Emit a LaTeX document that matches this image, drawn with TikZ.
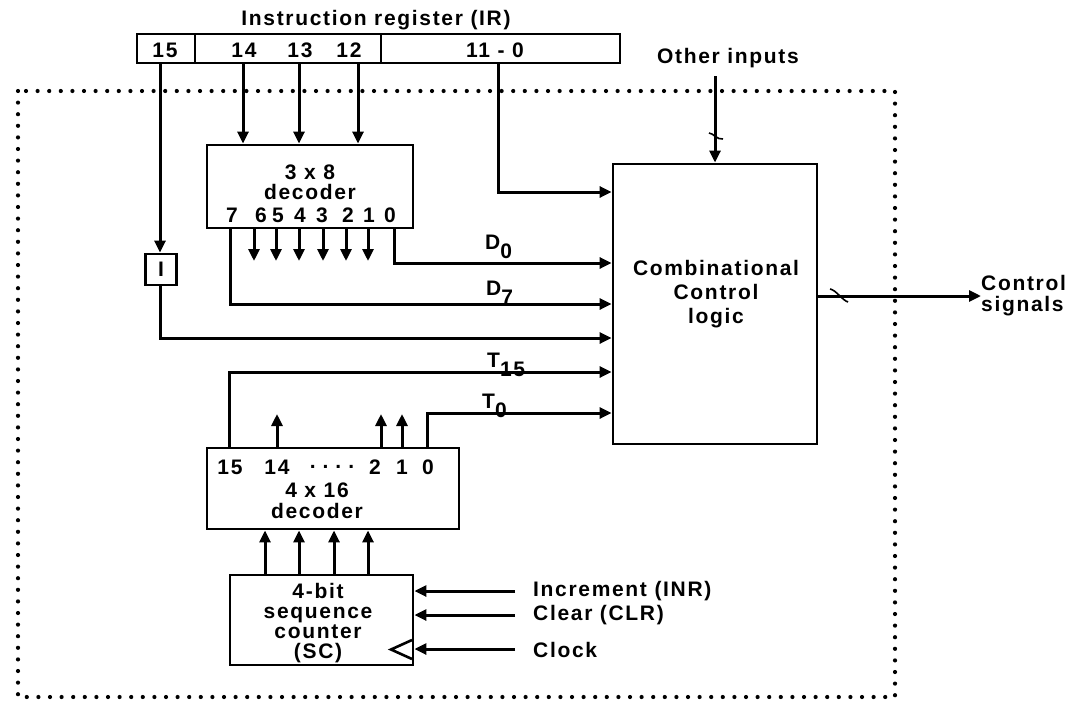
\documentclass[tikz,border=0pt]{standalone}
\usepackage{fontspec}
\setmainfont[LetterSpace=8]{Liberation Sans}
\usetikzlibrary{arrows.meta}
\begin{document}
\begin{tikzpicture}[x=1pt,y=-1pt,
  font=\fontsize{21}{24}\selectfont\bfseries,
  box/.style={draw,line width=2.9pt,inner sep=0pt},
  wire/.style={line width=3pt},
  arr/.style={line width=3pt,-{Triangle[length=12pt,width=11pt]}},
  lbl/.style={inner sep=0pt},
  dotbox/.style={line width=4.2pt,line cap=round,dash pattern=on 0pt off 11.6pt}]
\useasboundingbox (0,0) rectangle (1070,704);
\fill[white] (0,0) rectangle (1070,704);

% dotted control unit frame
\draw[dotbox] (18,91) rectangle (895,697);

% instruction register
\node[lbl] (irtitle) at (376,20) {Instruction register (IR)};
\node[box,minimum width=58pt,minimum height=29pt] (ir15) at (166,48.5) {};
\node[box,minimum width=186pt,minimum height=29pt] (irmid) at (288,48.5) {};
\node[box,minimum width=239pt,minimum height=29pt] (irlow) at (500.5,48.5) {};
\node[lbl] (t15) at (165,50) {15};
\node[lbl] (t14) at (244,50) {14};
\node[lbl] (t13) at (300,50) {13};
\node[lbl] (t12) at (349,50) {12};
\node[lbl] (t110) at (495,50) {11 - 0};

% 3x8 decoder
\node[box,minimum width=206pt,minimum height=83pt] (dec3) at (310,186.5) {};
\node[lbl] (dec3a) at (310,172) {3 x 8};
\node[lbl] (dec3b) at (310,192) {decoder};
\foreach \n/\x in {7/232,6/261,5/278,4/300,3/322,2/348,1/369,0/390}
  \node[lbl] (d3o\n) at (\x,215) {\n};

% I flip-flop
\node[box,minimum width=31pt,minimum height=31pt] (iff) at (161,269.5) {I};

% combinational control logic
\node[box,minimum width=204pt,minimum height=280pt] (ccl) at (715,304) {};
\node[lbl,align=center] (ccltext) at (716,294) {Combinational\\[0pt]Control\\[0pt]logic};

% 4x16 decoder
\node[box,minimum width=252pt,minimum height=81pt] (dec4) at (333,488.5) {};
\foreach \n/\t/\x in {a/15/230,b/14/277,c/{.\,\,.\,\,.\,\,.}/332,d/2/375,e/1/402,f/0/428}
  \node[lbl] (d4o\n) at (\x,467) {\t};
\node[lbl] (dec4a) at (317,490) {4 x 16};
\node[lbl] (dec4b) at (317,511) {decoder};

% sequence counter
\node[box,minimum width=183pt,minimum height=90pt] (sc) at (321.5,620) {};
\node[lbl,align=center] (sctext) at (318,623) {4-bit\\[-4pt]sequence\\[-4pt]counter\\[-4pt](SC)};
\draw[line width=2.6pt] (412,640) -- (391,649.5) -- (412,659);

% input labels of SC
\node[lbl,anchor=west] (inr) at (533,591) {Increment (INR)};
\node[lbl,anchor=west] (clr) at (533,615) {Clear (CLR)};
\node[lbl,anchor=west] (clk) at (533,650) {Clock};
\draw[arr] (515,591) -- (sc.east |- 0,591);
\draw[arr] (515,615) -- (sc.east |- 0,615);
\draw[arr] (515,649) -- (sc.east |- 0,649);

% IR to decoder
\foreach \x in {243,299,358}
  \draw[arr] (\x,0 |- irmid.south) -- (\x,0 |- dec3.north);
% bit 15 to I
\draw[arr] (160,0 |- ir15.south) -- (160,0 |- iff.north);
% I to CCL
\draw[arr] (160,0 |- iff.south) -- (160,338) -- (ccl.west |- 0,338);
% 11-0 to CCL
\draw[arr] (498,0 |- irlow.south) -- (498,192) -- (ccl.west |- 0,192);

% decoder outputs
\foreach \x in {254,276,299,323,346,368}
  \draw[arr] (\x,0 |- dec3.south) -- (\x,261);
\draw[arr] (394,0 |- dec3.south) -- (394,263) -- (ccl.west |- 0,263);
\draw[arr] (230,0 |- dec3.south) -- (230,304) -- (ccl.west |- 0,304);
\node[lbl,anchor=base west] (lD0) at (485,249) {D\raisebox{-0.45em}{0}};
\node[lbl,anchor=base west] (lD7) at (486,295) {D\raisebox{-0.45em}{7}};

% timing outputs
\draw[arr] (229,0 |- dec4.north) -- (229,372) -- (ccl.west |- 0,372);
\draw[arr] (427,0 |- dec4.north) -- (427,413) -- (ccl.west |- 0,413);
\foreach \x in {277,381,402}
  \draw[arr] (\x,0 |- dec4.north) -- (\x,414);
\node[lbl,anchor=base west] (lT15) at (487,367) {T\raisebox{-0.45em}{15}};
\node[lbl,anchor=base west] (lT0) at (482,408) {T\raisebox{-0.45em}{0}};

% SC to 4x16 decoder
\foreach \x in {265,299,334,368}
  \draw[arr] (\x,0 |- sc.north) -- (\x,0 |- dec4.south);

% other inputs
\node[lbl] (oin) at (728,58) {Other inputs};
\draw[arr] (715,76) -- (715,0 |- ccl.north);
\draw[line width=1.6pt] (709,133) .. controls (713,133) and (717,140) .. (723,139);

% control signals
\node[lbl,align=left,anchor=west] (csig) at (981,296) {Control\\[-3pt]signals};
\draw[arr] (ccl.east |- 0,296) -- (csig.west);
\draw[line width=1.6pt] (830,289) .. controls (836,290) and (842,300) .. (848,302);
\end{tikzpicture}
\end{document}
